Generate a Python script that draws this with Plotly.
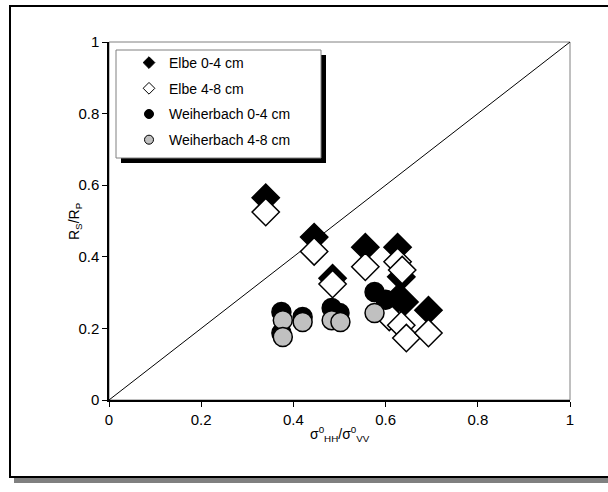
import plotly.graph_objects as go

elbe04_x = [0.34, 0.445, 0.485, 0.556, 0.626, 0.634, 0.623, 0.641, 0.693]
elbe04_y = [0.565, 0.455, 0.34, 0.427, 0.427, 0.344, 0.279, 0.274, 0.251]
elbe48_x = [0.34, 0.445, 0.485, 0.556, 0.626, 0.636, 0.608, 0.634, 0.645, 0.693]
elbe48_y = [0.525, 0.415, 0.324, 0.372, 0.386, 0.363, 0.232, 0.209, 0.173, 0.187]
weih04_x = [0.374, 0.374, 0.42, 0.483, 0.5, 0.576, 0.6]
weih04_y = [0.246, 0.187, 0.232, 0.257, 0.243, 0.302, 0.28]
weih48_x = [0.377, 0.377, 0.42, 0.483, 0.502, 0.576]
weih48_y = [0.223, 0.176, 0.218, 0.223, 0.218, 0.243]

series_names = ["Elbe 0-4 cm", "Elbe 4-8 cm", "Weiherbach 0-4 cm", "Weiherbach 4-8 cm"]
tick_vals = [0, 0.2, 0.4, 0.6, 0.8, 1]
tick_text = ["0", "0.2", "0.4", "0.6", "0.8", "1"]
x_title = "σ<sup>0</sup><sub>HH</sub>/σ<sup>0</sup><sub>VV</sub>"
y_title = "R<sub>S</sub>/R<sub>P</sub>"

FONT = "Arial, Liberation Sans, sans-serif"

styles = [
    dict(symbol="diamond", color="black", size=21),
    dict(symbol="diamond", color="white", size=21),
    dict(symbol="circle", color="black", size=19),
    dict(symbol="circle", color="#c0c0c0", size=19),
]
data = [(elbe04_x, elbe04_y), (elbe48_x, elbe48_y), (weih04_x, weih04_y), (weih48_x, weih48_y)]

fig = go.Figure()
for (xs, ys), st, nm in zip(data, styles, series_names):
    fig.add_trace(go.Scatter(
        x=xs, y=ys, mode="markers", showlegend=False,
        marker=dict(symbol=st["symbol"], size=st["size"], color=st["color"],
                    line=dict(color="black", width=1.5)),
        name=nm,
    ))
for i, (st, nm) in enumerate(zip(styles, series_names)):
    fig.add_trace(go.Scatter(
        x=[None], y=[None], mode="markers", name=nm, legendgroup=f"g{i}",
        marker=dict(symbol=st["symbol"], size=9, color=st["color"],
                    line=dict(color="black", width=1)),
    ))

L, R, T, B = 109, 38, 42, 92
W, H = 608, 492
pw, ph = W - L - R, H - T - B

def px2x(px):
    return (px - L) / pw

def py2y(py):
    return (H - B - py) / ph

shapes = [
    dict(type="rect", xref="paper", yref="paper",
         x0=px2x(14), x1=px2x(615), y0=py2y(478), y1=py2y(483),
         fillcolor="#808080", line=dict(width=0), layer="below"),
    dict(type="rect", xref="paper", yref="paper",
         x0=px2x(10), x1=px2x(612), y0=py2y(477), y1=py2y(6),
         fillcolor="rgba(0,0,0,0)", line=dict(color="black", width=2), layer="below"),
    dict(type="rect", xref="paper", yref="paper", x0=0, x1=1, y0=0, y1=1,
         line=dict(color="#808080", width=1), layer="below"),
    dict(type="line", xref="x", yref="y", x0=0, y0=0, x1=1, y1=1,
         line=dict(color="black", width=1), layer="below"),
    dict(type="rect", xref="paper", yref="paper",
         x0=px2x(121), x1=px2x(326), y0=py2y(163), y1=py2y(55),
         fillcolor="black", line=dict(width=0), layer="below"),
    dict(type="rect", xref="paper", yref="paper",
         x0=px2x(116), x1=px2x(321), y0=py2y(158), y1=py2y(50),
         fillcolor="white", line=dict(color="#808080", width=1), layer="below"),
]

annotations = [
    dict(text=x_title, xref="paper", yref="paper", x=0.5, y=py2y(434),
         xanchor="center", yanchor="middle", showarrow=False,
         font=dict(family=FONT, size=14, color="black")),
    dict(text=y_title, xref="paper", yref="paper", x=px2x(75), y=0.5,
         xanchor="center", yanchor="middle", showarrow=False, textangle=-90,
         font=dict(family=FONT, size=14, color="black")),
]

fig.update_layout(
    width=W, height=H,
    margin=dict(l=L, r=R, t=T, b=B),
    paper_bgcolor="white", plot_bgcolor="white",
    font=dict(family=FONT, size=15, color="black"),
    shapes=shapes,
    annotations=annotations,
    showlegend=True,
    legend=dict(x=px2x(129), y=py2y(47), xanchor="left", yanchor="top",
                bgcolor="rgba(0,0,0,0)", borderwidth=0,
                font=dict(family=FONT, size=14, color="black"),
                tracegroupgap=4.5, itemwidth=30, traceorder="grouped"),
    xaxis=dict(range=[0, 1], tickvals=tick_vals, ticktext=tick_text,
               showgrid=False, zeroline=False, showline=True, linecolor="black", linewidth=1.5,
               ticks="outside", ticklen=5, tickcolor="black", tickwidth=1,
               tickfont=dict(size=15)),
    yaxis=dict(range=[0, 1], tickvals=tick_vals, ticktext=tick_text,
               showgrid=False, zeroline=False, showline=True, linecolor="black", linewidth=1.5,
               ticks="outside", ticklen=5, tickcolor="black", tickwidth=1,
               tickfont=dict(size=15)),
)

fig.write_html("out.html", config={"displayModeBar": False},
               post_script="document.body.style.margin='0';document.body.style.overflow='hidden';")
